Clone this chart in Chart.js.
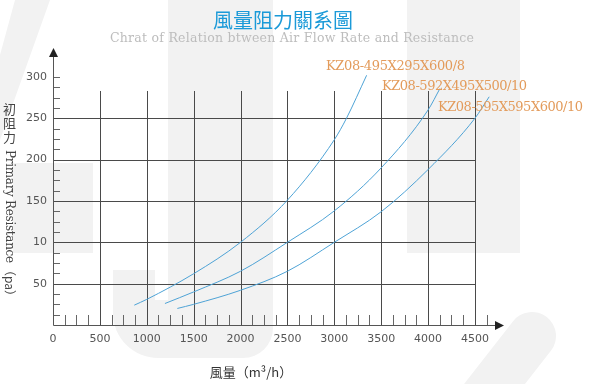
<!DOCTYPE html>
<html>
<head>
<meta charset="utf-8">
<script src="https://cdn.jsdelivr.net/npm/chart.js@4.4.1/dist/chart.umd.min.js"></script>
<style>
  html, body { margin: 0; padding: 0; background: #fff; }
  #airChart { display: block; }
</style>
</head>
<body>
<canvas id="airChart" width="593" height="384"></canvas>
<script>
const seriesNames = ['KZ08-495X295X600/8', 'KZ08-592X495X500/10', 'KZ08-595X595X600/10'];

// 風量 (m3/h) / 初阻力 (pa)
const flowA = [867, 1000, 1500, 2000, 2500, 3000, 3130, 3345];
const resA  = [24, 31, 62, 100, 151, 224, 250, 302];
const flowB = [1194, 1500, 2000, 2500, 3000, 3500, 4000, 4127];
const resB  = [26, 40, 65, 100, 138, 190, 260, 286];
const flowC = [1326, 1500, 2000, 2500, 3000, 3500, 4000, 4500, 4652];
const resC  = [20, 25, 42, 65, 100, 137, 188, 250, 276];

const xTickLabels = [0, 500, 1000, 1500, 2000, 2500, 3000, 3500, 4000, 4500];
const yTickValues = [50, 100, 150, 200, 250, 300];
const yTickLabels = ['50', '10', '150', '200', '250', '300'];

const pts = (xs, ys) => xs.map((x, i) => ({ x: x, y: ys[i] }));

const blue = '#4ea3d6';
const gridColor = '#4a4a4a';

// grey watermark behind the chart
const watermark = {
  id: 'watermark',
  beforeDraw(chart) {
    const c = chart.ctx;
    c.save();
    c.fillStyle = '#f2f2f2';
    c.beginPath();
    c.moveTo(15, 0); c.lineTo(50, 0); c.lineTo(0, 140); c.lineTo(0, 55);
    c.closePath(); c.fill();
    c.fillRect(13, 163, 80, 90);
    c.fillRect(407, 0, 113, 253);
    c.fillRect(168, 0, 105, 320);
    c.fillRect(113, 270, 42, 40);
    c.beginPath();
    c.roundRect(113, 300, 160, 58, [0, 0, 30, 45]);
    c.fill();
    c.strokeStyle = '#f2f2f2';
    c.lineWidth = 48;
    c.lineCap = 'round';
    c.beginPath(); c.moveTo(532, 336); c.lineTo(482, 400); c.stroke();
    c.restore();
  }
};

// grid, axis lines, minor ticks and arrows
const frame = {
  id: 'frame',
  beforeDatasetsDraw(chart) {
    const c = chart.ctx, x = chart.scales.x, y = chart.scales.y;
    const x0 = x.getPixelForValue(0), y0 = y.getPixelForValue(0);
    c.save();
    c.strokeStyle = gridColor;
    c.lineWidth = 1;
    c.beginPath();
    yTickValues.slice(0, 5).forEach(v => {
      const py = Math.round(y.getPixelForValue(v)) + 0.5;
      c.moveTo(x0, py); c.lineTo(x.getPixelForValue(4500) + 0.5, py);
    });
    xTickLabels.slice(1).forEach(v => {
      const px = Math.round(x.getPixelForValue(v)) + 0.5;
      c.moveTo(px, y0); c.lineTo(px, y.getPixelForValue(283));
    });
    c.stroke();

    c.strokeStyle = '#666';
    c.beginPath();
    for (let v = 125; v <= 4625; v += 125) {
      if (v % 500 === 0) continue;
      const px = Math.round(x.getPixelForValue(v)) + 0.5;
      c.moveTo(px, y0); c.lineTo(px, y0 - 10);
    }
    for (let v = 12.5; v <= 300; v += 12.5) {
      if (v % 50 === 0 && v !== 300) continue;
      const py = Math.round(y.getPixelForValue(v)) + 0.5;
      c.moveTo(x0, py); c.lineTo(x0 + 7, py);
    }
    c.stroke();

    // axes
    const ax = Math.round(x0) + 0.5, ay = Math.round(y0) + 0.5;
    const right = chart.chartArea.right, top = chart.chartArea.top;
    c.strokeStyle = '#555';
    c.beginPath();
    c.moveTo(ax, ay); c.lineTo(right - 7, ay);
    c.moveTo(ax, ay); c.lineTo(ax, top + 8);
    c.stroke();
    c.fillStyle = '#222';
    c.beginPath();
    c.moveTo(right, ay); c.lineTo(right - 9, ay - 4.5); c.lineTo(right - 9, ay + 4.5);
    c.closePath(); c.fill();
    c.beginPath();
    c.moveTo(ax, top); c.lineTo(ax - 4.5, top + 9); c.lineTo(ax + 4.5, top + 9);
    c.closePath(); c.fill();
    c.restore();
  }
};

function fitText(c, text, x, y, width) {
  c.letterSpacing = '0px';
  const w = c.measureText(text).width;
  const sp = (width - w) / Math.max(1, text.length - 1);
  c.letterSpacing = sp.toFixed(2) + 'px';
  c.fillText(text, x, y);
  c.letterSpacing = '0px';
}

// titles and curve names
const texts = {
  id: 'texts',
  afterDraw(chart) {
    const c = chart.ctx;
    c.save();
    c.textBaseline = 'middle';
    c.textAlign = 'center';
    c.fillStyle = '#1b9ad8';
    c.font = '20px "Noto Sans CJK TC"';
    c.fillText('風量阻力關系圖', 283, 20);

    c.textAlign = 'left';
    c.fillStyle = '#bdbdbd';
    c.font = '12.5px "DejaVu Serif"';
    fitText(c, 'Chrat of Relation btween Air Flow Rate and Resistance', 110, 39, 364);

    c.fillStyle = '#e39b5b';
    c.font = '13px "DejaVu Serif"';
    fitText(c, seriesNames[0], 326, 67, 139);
    fitText(c, seriesNames[1], 382, 87, 145);
    fitText(c, seriesNames[2], 438, 108, 145);

    c.fillStyle = '#333';
    c.textAlign = 'center';
    c.font = '13px "Noto Sans CJK TC"';
    c.fillText('風量（m³/h）', 251, 372);

    // y axis title, read top to bottom
    c.fillStyle = '#444';
    c.fillText('初', 9.5, 109);
    c.fillText('阻', 9.5, 123);
    c.fillText('力', 9.5, 137);
    c.translate(9.5, 0);
    c.rotate(Math.PI / 2);
    c.textAlign = 'left';
    c.font = '12px "DejaVu Serif"';
    fitText(c, 'Primary Resistance', 150, 0, 113);
    c.font = '12px "Noto Sans CJK TC"';
    c.fillText('（pa）', 264, 0);
    c.restore();
  }
};

new Chart(document.getElementById('airChart'), {
  type: 'line',
  data: {
    datasets: [
      { label: seriesNames[0], data: pts(flowA, resA) },
      { label: seriesNames[1], data: pts(flowB, resB) },
      { label: seriesNames[2], data: pts(flowC, resC) }
    ].map(d => Object.assign(d, {
      borderColor: blue,
      borderWidth: 1,
      pointRadius: 0,
      fill: false,
      tension: 0.4,
      cubicInterpolationMode: 'monotone'
    }))
  },
  options: {
    responsive: false,
    animation: false,
    devicePixelRatio: 1,
    layout: { padding: { top: 48, right: 89, left: 0, bottom: 0 } },
    plugins: {
      legend: { display: false },
      tooltip: { enabled: false }
    },
    scales: {
      x: {
        type: 'linear',
        min: 0,
        max: 4810,
        grid: { display: false, drawTicks: false },
        border: { display: false },
        afterBuildTicks: s => { s.ticks = xTickLabels.map(v => ({ value: v })); },
        afterFit: s => { s.height = 59; },
        ticks: {
          autoSkip: false,
          maxRotation: 0,
          padding: 8,
          color: '#555',
          font: { family: 'DejaVu Sans', size: 11 },
          callback: v => String(v)
        }
      },
      y: {
        min: 0,
        max: 335,
        grid: { display: false, drawTicks: false },
        border: { display: false },
        afterBuildTicks: s => { s.ticks = yTickValues.map(v => ({ value: v })); },
        afterFit: s => { s.width = 53; },
        ticks: {
          autoSkip: false,
          padding: 6,
          color: '#555',
          font: { family: 'DejaVu Sans', size: 11 },
          callback: (v, i) => yTickLabels[i]
        }
      }
    }
  },
  plugins: [watermark, frame, texts]
});
</script>
</body>
</html>
